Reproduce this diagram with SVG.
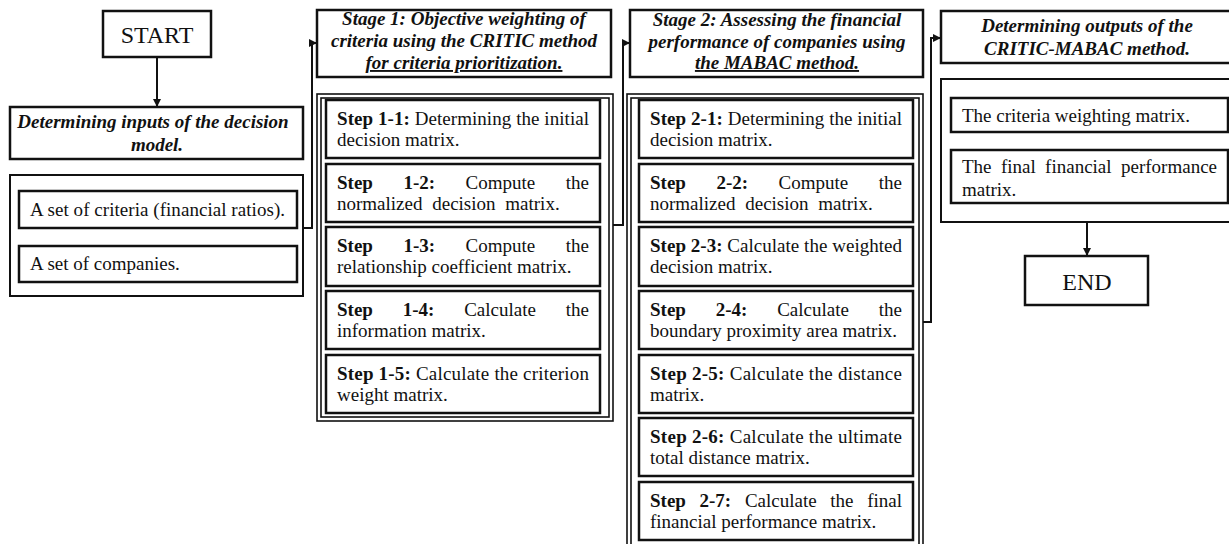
<svg xmlns="http://www.w3.org/2000/svg" width="1229" height="544" viewBox="0 0 1229 544">
<style>
text{font-family:"Liberation Serif","Times New Roman",serif;fill:#111;}
.t{font-size:19px;}
.b{font-weight:bold;}
.h{font-size:19px;font-weight:bold;font-style:italic;text-anchor:middle;}
.u{text-decoration:underline;}
.big{font-size:24px;text-anchor:middle;}
.box{fill:#fff;stroke:#111;stroke-width:2.5;}
.frame{fill:none;stroke:#111;stroke-width:2;}
.thin{fill:none;stroke:#111;stroke-width:1.6;}
.conn{fill:none;stroke:#111;stroke-width:2;}
.e{text-anchor:end;}
</style>
<defs>
<marker id="arr" markerUnits="userSpaceOnUse" markerWidth="9" markerHeight="9" refX="8" refY="4" orient="auto">
<path d="M0,0 L8,4 L0,8 z" fill="#111"/>
</marker>
</defs>
<rect width="1229" height="544" fill="#fff"/>

<g id="connectors">
<line class="conn" x1="157" y1="57" x2="157" y2="107" marker-end="url(#arr)"/>
<polyline class="conn" points="303,228 312,228 312,43 317,43" marker-end="url(#arr)"/>
<polyline class="conn" points="613,225 623,225 623,43 630,43" marker-end="url(#arr)"/>
<polyline class="conn" points="923,322 931,322 931,38 941,38" marker-end="url(#arr)"/>
<line class="conn" x1="1087" y1="222" x2="1087" y2="256" marker-end="url(#arr)"/>
</g>

<g id="start">
<rect class="box" x="103" y="11" width="108" height="46" stroke-width="2"/>
<text class="big" x="157" y="43" font-size="24">START</text>
</g>

<g id="inputs-header">
<rect class="box" x="10" y="107" width="293" height="52"/>
<text class="h" x="153" y="128">Determining inputs of the decision</text>
<text class="h" x="157" y="151">model.</text>
</g>

<g id="inputs">
<rect class="frame" x="10" y="175" width="293" height="121"/>
<rect class="box" x="19" y="191" width="278" height="37"/>
<text class="t" x="30" y="216" textLength="255" lengthAdjust="spacing">A set of criteria (financial ratios).</text>
<rect class="box" x="19" y="246" width="278" height="36"/>
<text class="t" x="30" y="270">A set of companies.</text>
</g>

<g id="stage1-header">
<rect class="box" x="317" y="10" width="294" height="67"/>
<text class="h" x="464" y="25">Stage 1: Objective weighting of</text>
<text class="h" x="464" y="47">criteria using the CRITIC method</text>
<text class="h u" x="464" y="69">for criteria prioritization.</text>
</g>

<g id="stage1">
<rect class="thin" x="317" y="94" width="296" height="327"/>
<rect class="thin" x="321" y="98" width="288" height="319"/>
<g id="step1-1">
<rect class="box" x="326" y="100" width="274" height="58"/>
<text class="t" x="337" y="125" textLength="252" lengthAdjust="spacing"><tspan class="b">Step 1-1:</tspan> Determining the initial</text>
<text class="t" x="337" y="146">decision matrix.</text>
</g>
<g id="step1-2">
<rect class="box" x="326" y="164" width="274" height="58"/>
<text class="t b" x="337" y="189">Step</text>
<text class="t b" x="403.4" y="189">1-2:</text>
<text class="t" x="465.6" y="189">Compute</text>
<text class="t e" x="589" y="189">the</text>
<text class="t" x="337" y="210" word-spacing="5">normalized decision matrix.</text>
</g>
<g id="step1-3">
<rect class="box" x="326" y="227" width="274" height="59"/>
<text class="t b" x="337" y="252">Step</text>
<text class="t b" x="403.4" y="252">1-3:</text>
<text class="t" x="465.6" y="252">Compute</text>
<text class="t e" x="589" y="252">the</text>
<text class="t" x="337" y="273">relationship coefficient matrix.</text>
</g>
<g id="step1-4">
<rect class="box" x="326" y="291" width="274" height="58"/>
<text class="t b" x="337" y="316">Step</text>
<text class="t b" x="402.7" y="316">1-4:</text>
<text class="t" x="464.2" y="316">Calculate</text>
<text class="t e" x="589" y="316">the</text>
<text class="t" x="337" y="337">information matrix.</text>
</g>
<g id="step1-5">
<rect class="box" x="326" y="355" width="274" height="58"/>
<text class="t" x="337" y="380" textLength="252" lengthAdjust="spacing"><tspan class="b">Step 1-5:</tspan> Calculate the criterion</text>
<text class="t" x="337" y="401">weight matrix.</text>
</g>
</g>

<g id="stage2-header">
<rect class="box" x="630" y="10" width="293" height="67"/>
<text class="h" x="777" y="26">Stage 2: Assessing the financial</text>
<text class="h" x="777" y="48">performance of companies using</text>
<text class="h u" x="777" y="69">the MABAC method.</text>
</g>

<g id="stage2">
<rect class="thin" x="627" y="94" width="296" height="470"/>
<rect class="thin" x="631" y="98" width="288" height="462"/>
<g id="step2-1">
<rect class="box" x="639" y="100" width="274" height="58"/>
<text class="t" x="650" y="125" textLength="252" lengthAdjust="spacing"><tspan class="b">Step 2-1:</tspan> Determining the initial</text>
<text class="t" x="650" y="146">decision matrix.</text>
</g>
<g id="step2-2">
<rect class="box" x="639" y="164" width="274" height="58"/>
<text class="t b" x="650" y="189">Step</text>
<text class="t b" x="716.4" y="189">2-2:</text>
<text class="t" x="778.6" y="189">Compute</text>
<text class="t e" x="902" y="189">the</text>
<text class="t" x="650" y="210" word-spacing="5">normalized decision matrix.</text>
</g>
<g id="step2-3">
<rect class="box" x="639" y="227" width="274" height="59"/>
<text class="t" x="650" y="252" textLength="252" lengthAdjust="spacing"><tspan class="b">Step 2-3:</tspan> Calculate the weighted</text>
<text class="t" x="650" y="273">decision matrix.</text>
</g>
<g id="step2-4">
<rect class="box" x="639" y="291" width="274" height="58"/>
<text class="t b" x="650" y="316">Step</text>
<text class="t b" x="715.7" y="316">2-4:</text>
<text class="t" x="777.2" y="316">Calculate</text>
<text class="t e" x="902" y="316">the</text>
<text class="t" x="650" y="337">boundary proximity area matrix.</text>
</g>
<g id="step2-5">
<rect class="box" x="639" y="355" width="274" height="58"/>
<text class="t" x="650" y="380" textLength="252" lengthAdjust="spacing"><tspan class="b">Step 2-5:</tspan> Calculate the distance</text>
<text class="t" x="650" y="401">matrix.</text>
</g>
<g id="step2-6">
<rect class="box" x="639" y="418" width="274" height="58"/>
<text class="t" x="650" y="443" textLength="252" lengthAdjust="spacing"><tspan class="b">Step 2-6:</tspan> Calculate the ultimate</text>
<text class="t" x="650" y="464">total distance matrix.</text>
</g>
<g id="step2-7">
<rect class="box" x="639" y="482" width="274" height="58"/>
<text class="t b" x="650" y="507">Step</text>
<text class="t b" x="699.5" y="507">2-7:</text>
<text class="t" x="744.9" y="507">Calculate</text>
<text class="t" x="830.3" y="507">the</text>
<text class="t e" x="902" y="507">final</text>
<text class="t" x="650" y="528">financial performance matrix.</text>
</g>
</g>

<g id="outputs-header">
<rect class="box" x="941" y="11" width="296" height="52"/>
<text class="h" x="1087" y="32">Determining outputs of the</text>
<text class="h" x="1087" y="55">CRITIC-MABAC method.</text>
</g>

<g id="outputs">
<rect class="frame" x="941" y="79" width="296" height="143"/>
<rect class="box" x="951" y="98" width="277" height="34"/>
<text class="t" x="962" y="122">The criteria weighting matrix.</text>
<rect class="box" x="951" y="150" width="277" height="53"/>
<text class="t" x="962" y="173">The</text>
<text class="t" x="1000.9" y="173">final</text>
<text class="t" x="1045.1" y="173">financial</text>
<text class="t e" x="1217" y="173">performance</text>
<text class="t" x="962" y="196">matrix.</text>
</g>

<g id="end">
<rect class="box" x="1025" y="256" width="123" height="49" stroke-width="2"/>
<text class="big" x="1087" y="290">END</text>
</g>
</svg>
